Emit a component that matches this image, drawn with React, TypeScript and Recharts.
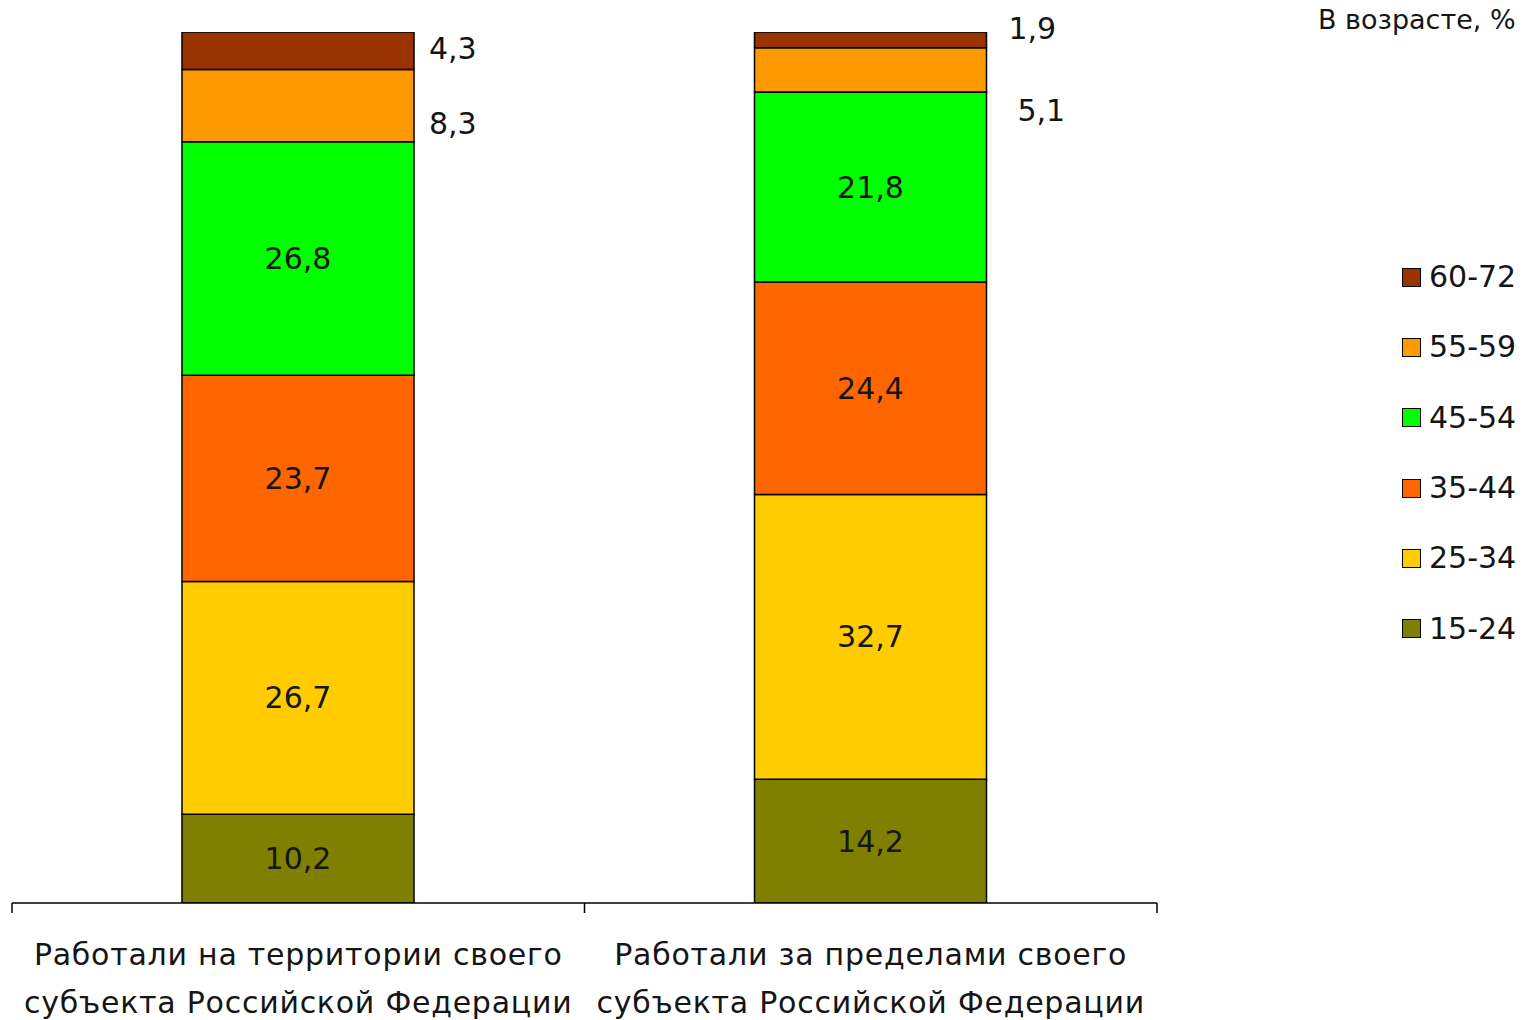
import { BarChart, Bar, XAxis, YAxis, LabelList } from 'recharts';

// categories (two lines each)
const categories = [
  ['Работали на территории своего', 'субъекта Российской Федерации'],
  ['Работали за пределами своего', 'субъекта Российской Федерации'],
];

const ageGroups = ['15-24', '25-34', '35-44', '45-54', '55-59', '60-72'];
const colors = ['#808000', '#FFCC00', '#FF6600', '#00FF00', '#FF9900', '#993300'];

// shares, % (first value = within region, second = outside region)
const age15to24 = [10.2, 14.2];
const age25to34 = [26.7, 32.7];
const age35to44 = [23.7, 24.4];
const age45to54 = [26.8, 21.8];
const age55to59 = [8.3, 5.1];
const age60to72 = [4.3, 1.9];

const series = [age15to24, age25to34, age35to44, age45to54, age55to59, age60to72];

const data = categories.map((lines, i) => {
  const row: Record<string, string | number> = { name: lines.join('\n') };
  series.forEach((s, k) => {
    row['a' + k] = s[i];
  });
  return row;
});

const W = 1527;
const H = 1020;
const M = { top: 32, right: 370, left: 12, bottom: 0 };
const AXIS_H = 117;
const AXIS_Y = H - AXIS_H;
const HALF_BAND = (W - M.left - M.right) / (categories.length * 2);
const FONT = '"DejaVu Sans", Verdana, sans-serif';
const INK = '#151515';

// small segments are labelled to the right of the bar, shifted like in the original
const outsideShift: Record<string, number[][]> = {
  a4: [[15, 18], [31, 41]],
  a5: [[15, -2], [22, -11]],
};

const fmt = (v: number) => String(v).replace('.', ',');

const renderLabel = (key: string) => (props: any) => {
  const { x, y, width, height, value, index } = props;
  const shift = outsideShift[key];
  if (shift) {
    const [dx, dy] = shift[index] || [15, 0];
    return (
      <text
        x={Number(x) + Number(width) + dx}
        y={Number(y) + Number(height) / 2 + dy}
        dominantBaseline="central"
        fontFamily={FONT}
        fontSize={30}
        fill={INK}
      >
        {fmt(value)}
      </text>
    );
  }
  return (
    <text
      x={Number(x) + Number(width) / 2}
      y={Number(y) + Number(height) / 2}
      textAnchor="middle"
      dominantBaseline="central"
      fontFamily={FONT}
      fontSize={30}
      fill={INK}
    >
      {fmt(value)}
    </text>
  );
};

const AxisTick = (props: any) => {
  const { x, payload, index } = props;
  const lines = String(payload.value).split('\n');
  const last = index === categories.length - 1;
  return (
    <g>
      <line x1={x - HALF_BAND} x2={x - HALF_BAND} y1={AXIS_Y} y2={AXIS_Y + 10} stroke="#000" strokeWidth={1.5} />
      {last && (
        <line x1={x + HALF_BAND} x2={x + HALF_BAND} y1={AXIS_Y} y2={AXIS_Y + 10} stroke="#000" strokeWidth={1.5} />
      )}
      {lines.map((l, i) => (
        <text
          key={i}
          x={x}
          y={AXIS_Y + 62 + i * 48}
          textAnchor="middle"
          fontFamily={FONT}
          fontSize={30}
          letterSpacing={0.75}
          fill={INK}
        >
          {l}
        </text>
      ))}
    </g>
  );
};

export default function App() {
  return (
    <div
      style={{
        position: 'absolute',
        left: 0,
        top: 0,
        width: W,
        height: H,
        overflow: 'hidden',
        background: '#fff',
      }}
    >
      <BarChart width={W} height={H} data={data} margin={M} barSize={232}>
        <XAxis
          dataKey="name"
          height={AXIS_H}
          interval={0}
          tickLine={false}
          axisLine={{ stroke: '#000', strokeWidth: 1.5 }}
          tick={<AxisTick />}
        />
        <YAxis hide domain={[0, 100]} allowDataOverflow />
        {ageGroups.map((g, k) => (
          <Bar
            key={g}
            dataKey={'a' + k}
            name={g}
            stackId="s"
            fill={colors[k]}
            stroke="#000"
            strokeWidth={1.5}
            isAnimationActive={false}
          >
            <LabelList dataKey={'a' + k} content={renderLabel('a' + k)} />
          </Bar>
        ))}
      </BarChart>

      <div
        style={{
          position: 'absolute',
          left: 1318,
          top: 4,
          fontFamily: FONT,
          fontSize: 27,
          color: INK,
          whiteSpace: 'nowrap',
        }}
      >
        В возрасте, %
      </div>

      {/* legend, top item = oldest group */}
      <div style={{ position: 'absolute', left: 1402, top: 242 }}>
        {ageGroups
          .map((g, k) => ({ g, c: colors[k] }))
          .reverse()
          .map(({ g, c }) => (
            <div key={g} style={{ display: 'flex', alignItems: 'center', height: 70.3 }}>
              <span
                style={{
                  width: 17,
                  height: 17,
                  background: c,
                  border: '1.5px solid #000',
                  marginRight: 8,
                  display: 'inline-block',
                }}
              />
              <span style={{ fontFamily: FONT, fontSize: 30, color: INK, lineHeight: '40px' }}>{g}</span>
            </div>
          ))}
      </div>
    </div>
  );
}
